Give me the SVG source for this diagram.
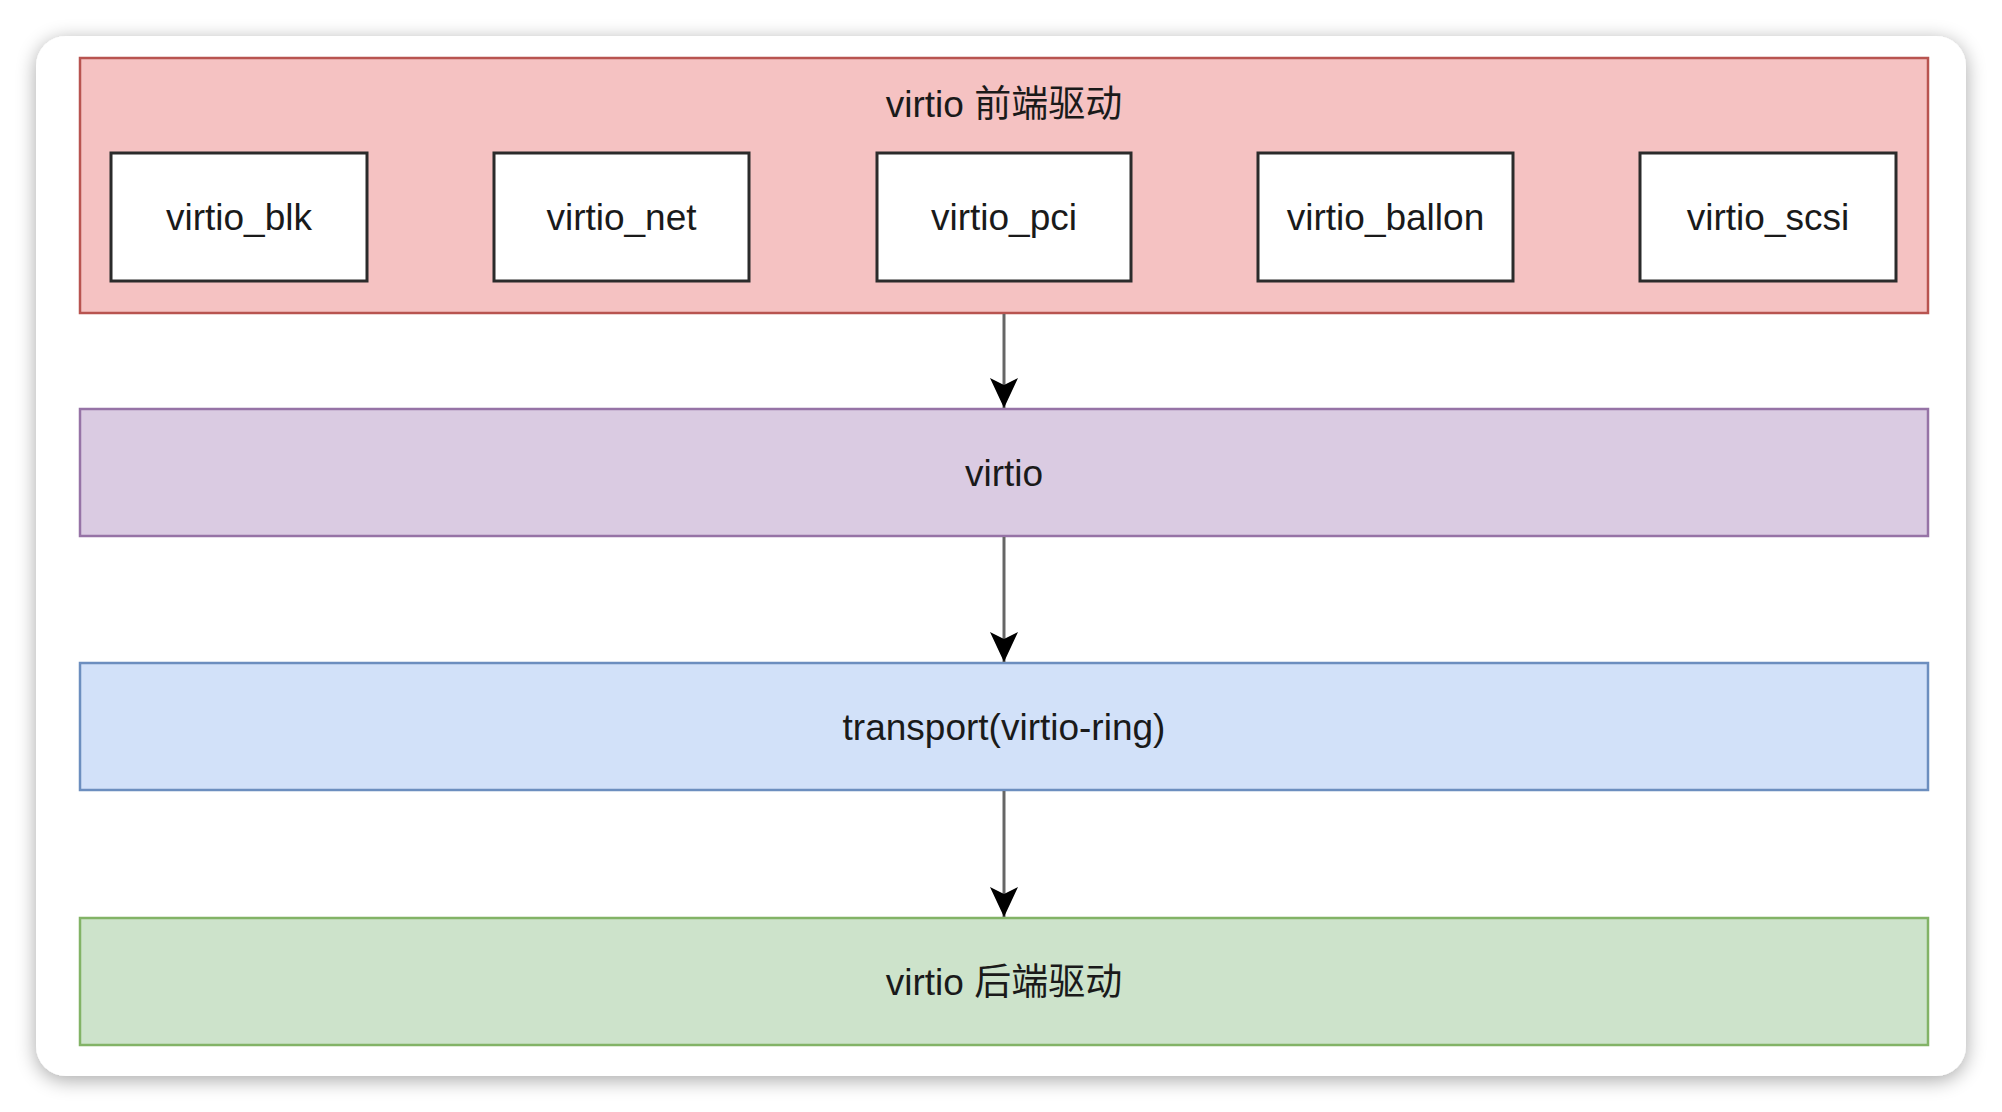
<svg xmlns="http://www.w3.org/2000/svg" width="2002" height="1112" viewBox="0 0 2002 1112">
  <defs>
    <filter id="shadow" x="-5%" y="-8%" width="110%" height="116%">
      <feGaussianBlur in="SourceAlpha" stdDeviation="10"/>
      <feOffset dx="0" dy="4" result="b"/>
      <feComponentTransfer><feFuncA type="linear" slope="0.35"/></feComponentTransfer>
      <feMerge><feMergeNode/><feMergeNode in="SourceGraphic"/></feMerge>
    </filter>
    <marker id="arrow" markerUnits="userSpaceOnUse" markerWidth="32" markerHeight="30" viewBox="0 0 32 30" refX="30" refY="15" orient="auto">
      <path d="M30,15 L0,1 L7,15 L0,29 Z" fill="#000"/>
    </marker>
    <style>
      text { font-family: "Liberation Sans", Arial, "Noto Sans CJK SC", sans-serif; font-size: 37px; fill: #1a1a1a; text-anchor: middle; }
      .inner { fill: #ffffff; stroke: #2b2b2b; stroke-width: 3; }
      .red { fill: #f5c2c2; stroke: #b85450; stroke-width: 2.5; }
      .purple { fill: #dacbe2; stroke: #9673a6; stroke-width: 2.5; }
      .blue { fill: #d2e1f9; stroke: #6c8ebf; stroke-width: 2.5; }
      .green { fill: #cde3cb; stroke: #82b366; stroke-width: 2.5; }
      .conn { stroke: #666666; stroke-width: 3; fill: none; }
    </style>
  </defs>
  <rect x="0" y="0" width="2002" height="1112" fill="#ffffff"/>
  <rect x="36" y="36" width="1930" height="1040" rx="30" ry="30" fill="#ffffff" filter="url(#shadow)"/>

  <g id="frontend">
    <rect class="red" x="80" y="58" width="1848" height="255"/>
    <text x="1004" y="117">virtio 前端驱动</text>
  </g>
  <g id="virtio_blk">
    <rect class="inner" x="111" y="153" width="256" height="128"/>
    <text x="239" y="230">virtio_blk</text>
  </g>
  <g id="virtio_net">
    <rect class="inner" x="494" y="153" width="255" height="128"/>
    <text x="621.5" y="230">virtio_net</text>
  </g>
  <g id="virtio_pci">
    <rect class="inner" x="877" y="153" width="254" height="128"/>
    <text x="1004" y="230">virtio_pci</text>
  </g>
  <g id="virtio_ballon">
    <rect class="inner" x="1258" y="153" width="255" height="128"/>
    <text x="1385.5" y="230">virtio_ballon</text>
  </g>
  <g id="virtio_scsi">
    <rect class="inner" x="1640" y="153" width="256" height="128"/>
    <text x="1768" y="230">virtio_scsi</text>
  </g>
  <g id="virtio">
    <rect class="purple" x="80" y="409" width="1848" height="127"/>
    <text x="1004" y="486">virtio</text>
  </g>
  <g id="transport">
    <rect class="blue" x="80" y="663" width="1848" height="127"/>
    <text x="1004" y="740">transport(virtio-ring)</text>
  </g>
  <g id="backend">
    <rect class="green" x="80" y="918" width="1848" height="127"/>
    <text x="1004" y="995">virtio 后端驱动</text>
  </g>

  <g id="connectors">
    <line class="conn" x1="1004" y1="314" x2="1004" y2="408" marker-end="url(#arrow)"/>
    <line class="conn" x1="1004" y1="537" x2="1004" y2="662" marker-end="url(#arrow)"/>
    <line class="conn" x1="1004" y1="791" x2="1004" y2="917" marker-end="url(#arrow)"/>
  </g>
</svg>
